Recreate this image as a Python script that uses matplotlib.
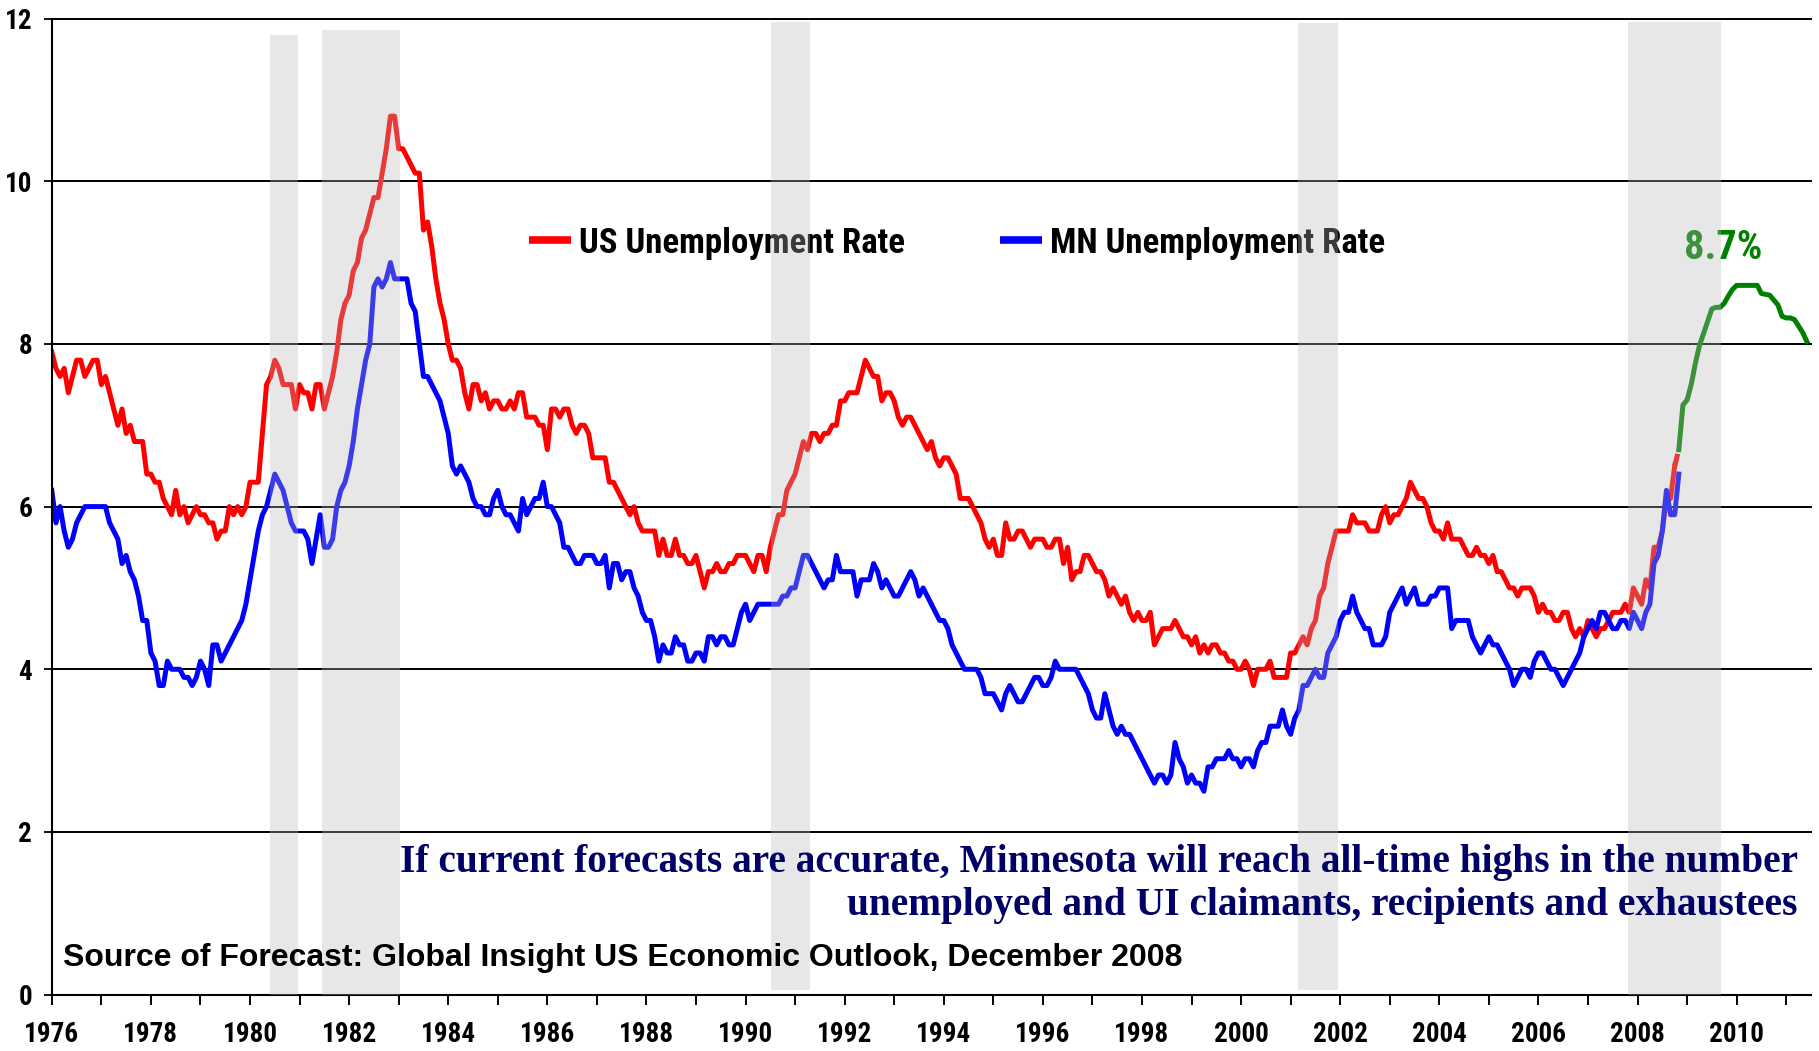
import numpy as np
import matplotlib
matplotlib.use("Agg")
import matplotlib.pyplot as plt
from matplotlib.lines import Line2D

# ===================================
# Data (monthly, starting Jan 1976)
# ===================================

us_rate = [
    7.9, 7.7, 7.6, 7.7, 7.4, 7.6, 7.8, 7.8, 7.6, 7.7, 7.8, 7.8,
    7.5, 7.6, 7.4, 7.2, 7.0, 7.2, 6.9, 7.0, 6.8, 6.8, 6.8, 6.4,
    6.4, 6.3, 6.3, 6.1, 6.0, 5.9, 6.2, 5.9, 6.0, 5.8, 5.9, 6.0,
    5.9, 5.9, 5.8, 5.8, 5.6, 5.7, 5.7, 6.0, 5.9, 6.0, 5.9, 6.0,
    6.3, 6.3, 6.3, 6.9, 7.5, 7.6, 7.8, 7.7, 7.5, 7.5, 7.5, 7.2,
    7.5, 7.4, 7.4, 7.2, 7.5, 7.5, 7.2, 7.4, 7.6, 7.9, 8.3, 8.5,
    8.6, 8.9, 9.0, 9.3, 9.4, 9.6, 9.8, 9.8, 10.1, 10.4, 10.8, 10.8,
    10.4, 10.4, 10.3, 10.2, 10.1, 10.1, 9.4, 9.5, 9.2, 8.8, 8.5, 8.3,
    8.0, 7.8, 7.8, 7.7, 7.4, 7.2, 7.5, 7.5, 7.3, 7.4, 7.2, 7.3,
    7.3, 7.2, 7.2, 7.3, 7.2, 7.4, 7.4, 7.1, 7.1, 7.1, 7.0, 7.0,
    6.7, 7.2, 7.2, 7.1, 7.2, 7.2, 7.0, 6.9, 7.0, 7.0, 6.9, 6.6,
    6.6, 6.6, 6.6, 6.3, 6.3, 6.2, 6.1, 6.0, 5.9, 6.0, 5.8, 5.7,
    5.7, 5.7, 5.7, 5.4, 5.6, 5.4, 5.4, 5.6, 5.4, 5.4, 5.3, 5.3,
    5.4, 5.2, 5.0, 5.2, 5.2, 5.3, 5.2, 5.2, 5.3, 5.3, 5.4, 5.4,
    5.4, 5.3, 5.2, 5.4, 5.4, 5.2, 5.5, 5.7, 5.9, 5.9, 6.2, 6.3,
    6.4, 6.6, 6.8, 6.7, 6.9, 6.9, 6.8, 6.9, 6.9, 7.0, 7.0, 7.3,
    7.3, 7.4, 7.4, 7.4, 7.6, 7.8, 7.7, 7.6, 7.6, 7.3, 7.4, 7.4,
    7.3, 7.1, 7.0, 7.1, 7.1, 7.0, 6.9, 6.8, 6.7, 6.8, 6.6, 6.5,
    6.6, 6.6, 6.5, 6.4, 6.1, 6.1, 6.1, 6.0, 5.9, 5.8, 5.6, 5.5,
    5.6, 5.4, 5.4, 5.8, 5.6, 5.6, 5.7, 5.7, 5.6, 5.5, 5.6, 5.6,
    5.6, 5.5, 5.5, 5.6, 5.6, 5.3, 5.5, 5.1, 5.2, 5.2, 5.4, 5.4,
    5.3, 5.2, 5.2, 5.1, 4.9, 5.0, 4.9, 4.8, 4.9, 4.7, 4.6, 4.7,
    4.6, 4.6, 4.7, 4.3, 4.4, 4.5, 4.5, 4.5, 4.6, 4.5, 4.4, 4.4,
    4.3, 4.4, 4.2, 4.3, 4.2, 4.3, 4.3, 4.2, 4.2, 4.1, 4.1, 4.0,
    4.0, 4.1, 4.0, 3.8, 4.0, 4.0, 4.0, 4.1, 3.9, 3.9, 3.9, 3.9,
    4.2, 4.2, 4.3, 4.4, 4.3, 4.5, 4.6, 4.9, 5.0, 5.3, 5.5, 5.7,
    5.7, 5.7, 5.7, 5.9, 5.8, 5.8, 5.8, 5.7, 5.7, 5.7, 5.9, 6.0,
    5.8, 5.9, 5.9, 6.0, 6.1, 6.3, 6.2, 6.1, 6.1, 6.0, 5.8, 5.7,
    5.7, 5.6, 5.8, 5.6, 5.6, 5.6, 5.5, 5.4, 5.4, 5.5, 5.4, 5.4,
    5.3, 5.4, 5.2, 5.2, 5.1, 5.0, 5.0, 4.9, 5.0, 5.0, 5.0, 4.9,
    4.7, 4.8, 4.7, 4.7, 4.6, 4.6, 4.7, 4.7, 4.5, 4.4, 4.5, 4.4,
    4.6, 4.5, 4.4, 4.5, 4.5, 4.6, 4.7, 4.7, 4.7, 4.8, 4.7, 5.0,
    4.9, 4.8, 5.1, 5.0, 5.5, 5.5, 5.7, 6.1, 6.1, 6.5, 6.7,
]

mn_rate = [
    6.2, 5.8, 6.0, 5.7, 5.5, 5.6, 5.8, 5.9, 6.0, 6.0, 6.0, 6.0,
    6.0, 6.0, 5.8, 5.7, 5.6, 5.3, 5.4, 5.2, 5.1, 4.9, 4.6, 4.6,
    4.2, 4.1, 3.8, 3.8, 4.1, 4.0, 4.0, 4.0, 3.9, 3.9, 3.8, 3.9,
    4.1, 4.0, 3.8, 4.3, 4.3, 4.1, 4.2, 4.3, 4.4, 4.5, 4.6, 4.8,
    5.1, 5.4, 5.7, 5.9, 6.0, 6.2, 6.4, 6.3, 6.2, 6.0, 5.8, 5.7,
    5.7, 5.7, 5.6, 5.3, 5.6, 5.9, 5.5, 5.5, 5.6, 6.0, 6.2, 6.3,
    6.5, 6.8, 7.2, 7.5, 7.8, 8.0, 8.7, 8.8, 8.7, 8.8, 9.0, 8.8,
    8.8, 8.8, 8.8, 8.5, 8.4, 8.0, 7.6, 7.6, 7.5, 7.4, 7.3, 7.1,
    6.9, 6.5, 6.4, 6.5, 6.4, 6.3, 6.1, 6.0, 6.0, 5.9, 5.9, 6.1,
    6.2, 6.0, 5.9, 5.9, 5.8, 5.7, 6.1, 5.9, 6.0, 6.1, 6.1, 6.3,
    6.0, 6.0, 5.9, 5.8, 5.5, 5.5, 5.4, 5.3, 5.3, 5.4, 5.4, 5.4,
    5.3, 5.3, 5.4, 5.0, 5.3, 5.3, 5.1, 5.2, 5.2, 5.0, 4.9, 4.7,
    4.6, 4.6, 4.4, 4.1, 4.3, 4.2, 4.2, 4.4, 4.3, 4.3, 4.1, 4.1,
    4.2, 4.2, 4.1, 4.4, 4.4, 4.3, 4.4, 4.4, 4.3, 4.3, 4.5, 4.7,
    4.8, 4.6, 4.7, 4.8, 4.8, 4.8, 4.8, 4.8, 4.8, 4.9, 4.9, 5.0,
    5.0, 5.2, 5.4, 5.4, 5.3, 5.2, 5.1, 5.0, 5.1, 5.1, 5.4, 5.2,
    5.2, 5.2, 5.2, 4.9, 5.1, 5.1, 5.1, 5.3, 5.2, 5.0, 5.1, 5.0,
    4.9, 4.9, 5.0, 5.1, 5.2, 5.1, 4.9, 5.0, 4.9, 4.8, 4.7, 4.6,
    4.6, 4.5, 4.3, 4.2, 4.1, 4.0, 4.0, 4.0, 4.0, 3.9, 3.7, 3.7,
    3.7, 3.6, 3.5, 3.7, 3.8, 3.7, 3.6, 3.6, 3.7, 3.8, 3.9, 3.9,
    3.8, 3.8, 3.9, 4.1, 4.0, 4.0, 4.0, 4.0, 4.0, 3.9, 3.8, 3.7,
    3.5, 3.4, 3.4, 3.7, 3.5, 3.3, 3.2, 3.3, 3.2, 3.2, 3.1, 3.0,
    2.9, 2.8, 2.7, 2.6, 2.7, 2.7, 2.6, 2.7, 3.1, 2.9, 2.8, 2.6,
    2.7, 2.6, 2.6, 2.5, 2.8, 2.8, 2.9, 2.9, 2.9, 3.0, 2.9, 2.9,
    2.8, 2.9, 2.9, 2.8, 3.0, 3.1, 3.1, 3.3, 3.3, 3.3, 3.5, 3.3,
    3.2, 3.4, 3.5, 3.8, 3.8, 3.9, 4.0, 3.9, 3.9, 4.2, 4.3, 4.4,
    4.6, 4.7, 4.7, 4.9, 4.7, 4.6, 4.5, 4.5, 4.3, 4.3, 4.3, 4.4,
    4.7, 4.8, 4.9, 5.0, 4.8, 4.9, 5.0, 4.8, 4.8, 4.8, 4.9, 4.9,
    5.0, 5.0, 5.0, 4.5, 4.6, 4.6, 4.6, 4.6, 4.4, 4.3, 4.2, 4.3,
    4.4, 4.3, 4.3, 4.2, 4.1, 4.0, 3.8, 3.9, 4.0, 4.0, 3.9, 4.1,
    4.2, 4.2, 4.1, 4.0, 4.0, 3.9, 3.8, 3.9, 4.0, 4.1, 4.2, 4.4,
    4.5, 4.6, 4.5, 4.7, 4.7, 4.6, 4.5, 4.5, 4.6, 4.6, 4.5, 4.7,
    4.6, 4.5, 4.7, 4.8, 5.3, 5.4, 5.7, 6.2, 5.9, 5.9, 6.4,
]

# US forecast, Nov 2008 onward
forecast_rate = [
    6.7, 7.25, 7.31, 7.5, 7.76, 7.98, 8.13, 8.28, 8.43, 8.45, 8.45, 8.5,
    8.59, 8.67, 8.72, 8.72, 8.72, 8.72, 8.72, 8.72, 8.62, 8.61, 8.6, 8.54,
    8.48, 8.34, 8.32, 8.32, 8.3, 8.22, 8.14, 8.03,
]

# recession shading
rec_start = [1980.40, 1981.45, 1990.51, 2001.14, 2007.80]
rec_end = [1980.97, 1983.02, 1991.31, 2001.95, 2009.69]
rec_top = [11.80, 11.86, 11.96, 11.94, 11.96]
rec_bottom = [0.0, 0.0, 0.06, 0.06, 0.0]

forecast_label = "8.7%"
note_line1 = "If current forecasts are accurate, Minnesota will reach all-time highs in the number"
note_line2 = "unemployed and UI claimants, recipients and exhaustees"
source_text = "Source of Forecast: Global Insight US Economic Outlook, December 2008"

# ===================================
# Time axis
# ===================================

t_hist = 1976 + np.arange(len(us_rate)) / 12
t_mn = 1976 + np.arange(len(mn_rate)) / 12
t_fc = t_hist[-1] + np.arange(len(forecast_rate)) / 12

narrow = ["Roboto Condensed", "Liberation Sans", "DejaVu Sans"]

# ===================================
# Figure
# ===================================

fig = plt.figure(figsize=(18.19, 10.51), dpi=100)
ax = fig.add_axes([0.02848, 0.05366, 0.9671, 0.92864])

for g in [2, 4, 6, 8, 10, 12]:
    ax.axhline(g, color="black", lw=1.4, zorder=1, clip_on=False)

ax.plot(t_hist[:-1], us_rate[:-1], color="#ff0000", lw=3.6,
        solid_joinstyle="round", zorder=2)
ax.plot(t_hist[-2:], us_rate[-2:], color="#ff0000", lw=3.6,
        linestyle=(0, (2.5, 1)), zorder=2)
ax.plot(t_mn, mn_rate, color="#0000ff", lw=3.6,
        solid_joinstyle="round", zorder=2)
ax.plot(t_fc, forecast_rate, color="#008000", lw=3.6,
        solid_joinstyle="round", zorder=2)

# recession bars sit on top, semi transparent
ax.bar(rec_start, np.array(rec_top) - np.array(rec_bottom),
       width=np.array(rec_end) - np.array(rec_start),
       bottom=rec_bottom, align="edge", color="#b8b8b8", alpha=0.325,
       linewidth=0, zorder=4)

# ===================================
# Legend and labels
# ===================================

handles = [
    Line2D([], [], color="#ff0000", lw=5.5, solid_capstyle="butt"),
    Line2D([], [], color="#0000ff", lw=5.5, solid_capstyle="butt"),
]
leg = ax.legend(handles, ["US Unemployment Rate", "MN Unemployment Rate"],
                loc="center left", bbox_to_anchor=(0.2713, 0.770),
                ncol=2, frameon=False, borderpad=0, borderaxespad=0,
                handlelength=1.2, handletextpad=0.23, columnspacing=2.75,
                prop={"family": narrow, "weight": "bold", "size": 25})
leg.set_zorder(3)

ax.text(2009.73, 9.05, forecast_label, color="#008000", ha="center",
        va="baseline", fontsize=29, fontweight="bold", family=narrow,
        zorder=3)

ax.text(2011.23, 1.51, note_line1, color="#000066", ha="right",
        va="baseline", fontsize=28.4, fontweight="bold",
        family=["Liberation Serif", "DejaVu Serif"], zorder=6)
ax.text(2011.23, 0.98, note_line2, color="#000066", ha="right",
        va="baseline", fontsize=28.4, fontweight="bold",
        family=["Liberation Serif", "DejaVu Serif"], zorder=6)

ax.text(1976.23, 0.35, source_text, color="black", ha="left",
        va="baseline", fontsize=23, fontweight="bold",
        family=["Liberation Sans", "DejaVu Sans"], zorder=6)

# ===================================
# Axes styling
# ===================================

ax.set_xlim(1976, 2011.5)
ax.set_ylim(0, 12)

ax.set_xticks(np.arange(1976, 2011, 2))
ax.set_xticks(np.arange(1977, 2012, 2), minor=True)
ax.set_xticklabels([str(y) for y in range(1976, 2011, 2)])
ax.set_yticks([0, 2, 4, 6, 8, 10, 12])

ax.tick_params(axis="x", which="both", direction="out", length=7.2,
               width=1.4, color="black", pad=12)
ax.tick_params(axis="y", direction="out", length=5.8, width=1.3,
               color="black", pad=8.3)

for lab in ax.get_xticklabels() + ax.get_yticklabels():
    lab.set_family(narrow)
    lab.set_fontweight("bold")
    lab.set_fontsize(19.5)

ax.spines["top"].set_visible(False)
ax.spines["right"].set_visible(False)
ax.spines["left"].set_linewidth(1.5)
ax.spines["bottom"].set_linewidth(1.5)

fig.savefig("out.png", dpi=100)
